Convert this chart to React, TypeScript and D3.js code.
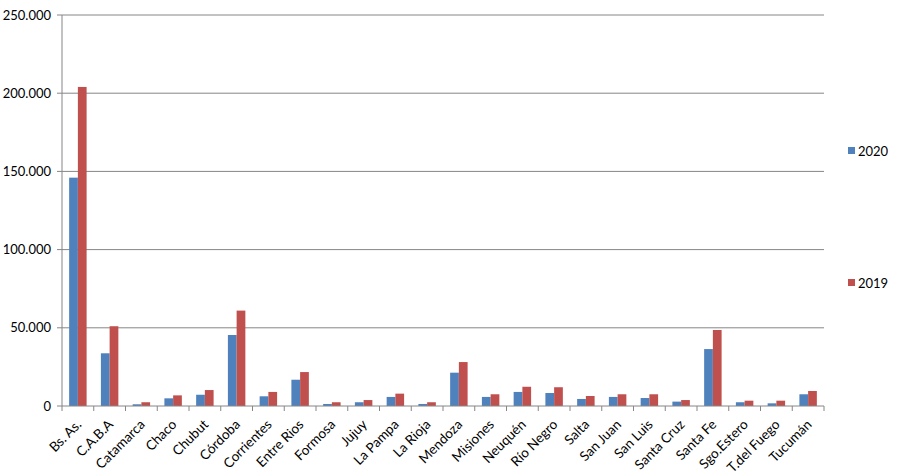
import React from "react";
import * as d3 from "d3";

const categories = [
  "Bs. As.", "C.A.B.A", "Catamarca", "Chaco", "Chubut", "Córdoba", "Corrientes", "Entre Rios",
  "Formosa", "Jujuy", "La Pampa", "La Rioja", "Mendoza", "Misiones", "Neuquén", "Río Negro",
  "Salta", "San Juan", "San Luis", "Santa Cruz", "Santa Fe", "Sgo.Estero", "T.del Fuego", "Tucumán",
];
const values2020 = [
  146000, 33700, 1100, 4900, 7200, 45400, 6200, 16800,
  1300, 2400, 5800, 1300, 21300, 5800, 9000, 8300,
  4500, 5800, 5100, 2800, 36400, 2400, 1700, 7500,
];
const values2019 = [
  204000, 51000, 2400, 6800, 10200, 61000, 9000, 21700,
  2400, 3800, 7900, 2400, 28100, 7500, 12300, 12000,
  6400, 7500, 7500, 3800, 48600, 3400, 3400, 9600,
];
const seriesNames = ["2020", "2019"];
const seriesColors = ["#4F81BD", "#C0504D"];
const yTicks = [0, 50000, 100000, 150000, 200000, 250000];

const W = 900, H = 474;
const left = 62, right = 824, top = 15, bottom = 406;
const font = "Lato, 'Open Sans', sans-serif";

export default function App() {
  const x0 = d3.scaleBand<string>().domain(categories).range([left, right]).paddingInner(0.45).paddingOuter(0.225);
  const x1 = d3.scaleBand<string>().domain(seriesNames).range([0, x0.bandwidth()]);
  const y = d3.scaleLinear().domain([0, 250000]).range([bottom, top]);
  const fmt = (v: number) => (v === 0 ? "0" : d3.format(",")(v).replace(/,/g, "."));
  const step = x0.step();
  const series = [values2020, values2019];
  const legendY = [151, 283];

  return (
    <svg width={W} height={H} style={{ position: "absolute", left: 0, top: 0, background: "#fff" }} fontFamily={font}>
      {yTicks.map((t) => (
        <g key={t}>
          {t > 0 && <line x1={left} x2={right} y1={y(t)} y2={y(t)} stroke="#868686" strokeWidth={1} />}
          <line x1={left - 5} x2={left} y1={y(t)} y2={y(t)} stroke="#868686" />
          <text x={51} y={y(t)} dy="0.35em" textAnchor="end" fontSize={13} fill="#000">{fmt(t)}</text>
        </g>
      ))}
      {categories.map((c, i) =>
        series.map((vals, s) => (
          <rect
            key={c + s}
            x={(x0(c) as number) + (x1(seriesNames[s]) as number)}
            y={y(vals[i])}
            width={x1.bandwidth()}
            height={bottom - y(vals[i])}
            fill={seriesColors[s]}
          />
        ))
      )}
      <line x1={left} x2={left} y1={top} y2={bottom} stroke="#868686" />
      <line x1={left} x2={right} y1={bottom} y2={bottom} stroke="#868686" />
      {d3.range(categories.length + 1).map((i) => (
        <line key={i} x1={left + i * step} x2={left + i * step} y1={bottom} y2={bottom + 5} stroke="#868686" />
      ))}
      {categories.map((c) => {
        const cx = (x0(c) as number) + x0.bandwidth() / 2 + 1;
        return (
          <text key={c} transform={`translate(${cx},${bottom + 16}) rotate(-45)`} textAnchor="end" fontSize={13.5} dy="0.35em" fill="#000">
            {c}
          </text>
        );
      })}
      {seriesNames.map((n, s) => (
        <g key={n}>
          <rect x={848} y={legendY[s] - 4} width={7} height={7} fill={seriesColors[s]} />
          <text x={858} y={legendY[s]} dy="0.35em" fontSize={13} fill="#000">{n}</text>
        </g>
      ))}
    </svg>
  );
}
